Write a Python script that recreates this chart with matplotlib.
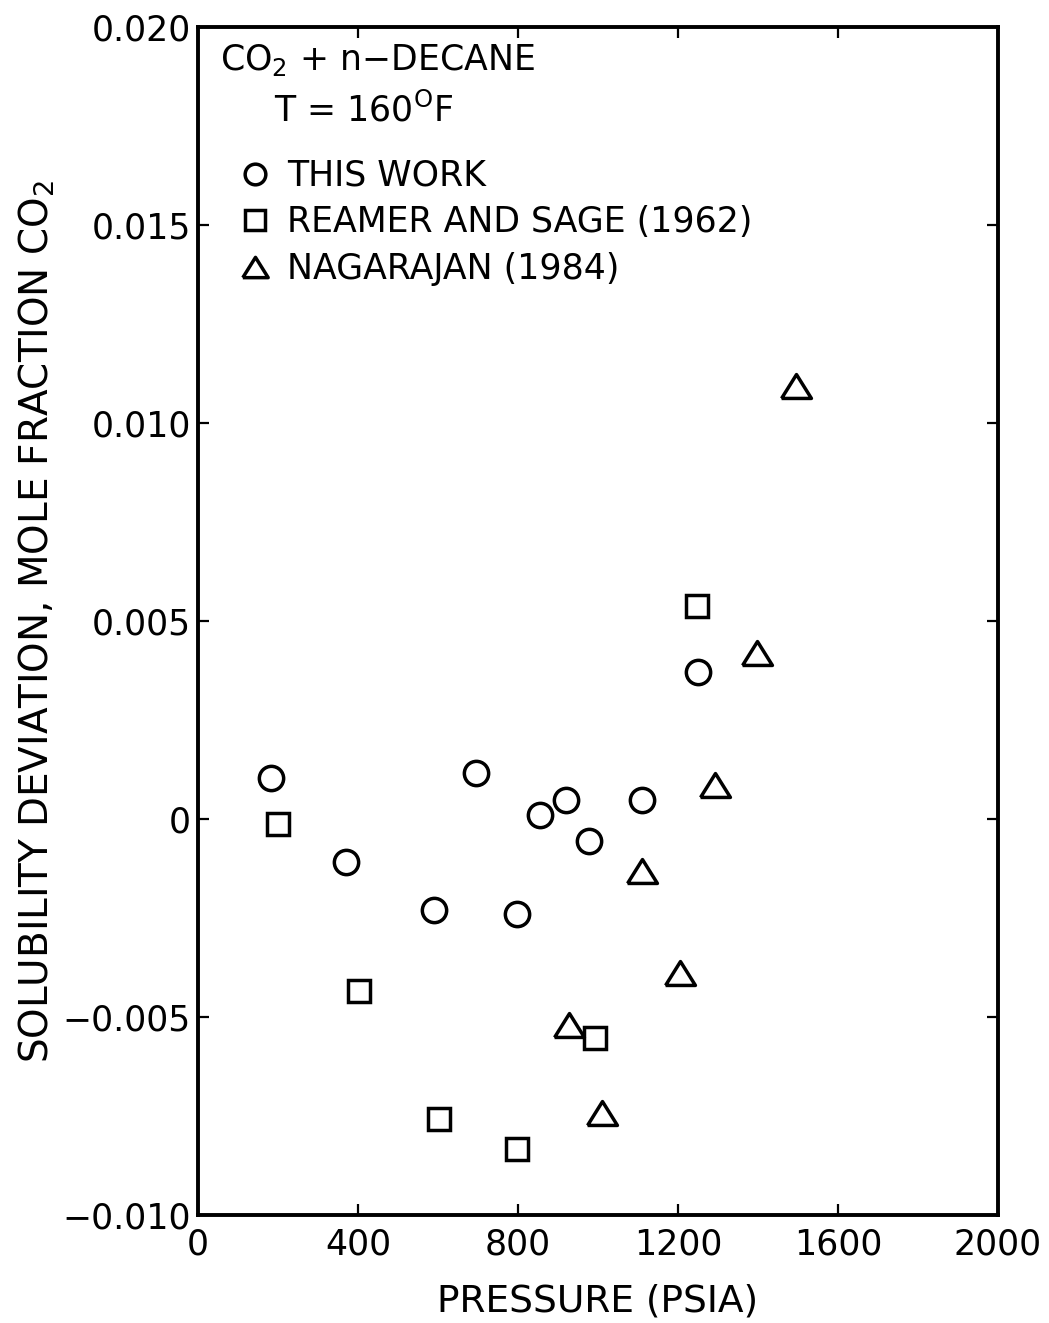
import matplotlib
matplotlib.use("Agg")
import matplotlib.pyplot as plt

plt.rcParams['font.family'] = ['DejaVu Sans']
plt.rcParams['mathtext.default'] = 'regular'

# THIS WORK
p_this = [182, 370, 590, 695, 797, 855, 920, 977, 1110, 1250]
d_this = [0.00103, -0.00108, -0.00229, 0.00116, -0.00239, 0.00010, 0.00048, -0.00055, 0.00048, 0.00370]

# REAMER AND SAGE (1962)
p_reamer = [200, 402, 602, 797, 992, 1247]
d_reamer = [-0.00013, -0.00433, -0.00758, -0.00834, -0.00554, 0.00539]

# NAGARAJAN (1984)
p_naga = [927, 1010, 1110, 1205, 1292, 1397, 1495]
d_naga = [-0.00519, -0.00743, -0.00131, -0.00388, 0.00086, 0.00418, 0.01093]

xticks = [0, 400, 800, 1200, 1600, 2000]
yticks = [-0.010, -0.005, 0, 0.005, 0.010, 0.015, 0.020]
ytick_labels = ['\u22120.010', '\u22120.005', '0', '0.005', '0.010', '0.015', '0.020']

# wide, flat triangle like the original symbols
tri = [(-1, -0.8), (1, -0.8), (0, 0.8), (-1, -0.8)]

fig = plt.figure(figsize=(10.49, 13.23), dpi=100)
ax = fig.add_axes([0.1888, 0.0816, 0.7626, 0.898])

kw = dict(ls='none', mfc='white', mec='black', mew=2.5)
l1, = ax.plot(p_this, d_this, marker='o', ms=17.5, **kw)
l2, = ax.plot(p_reamer, d_reamer, marker='s', ms=16.5, **kw)
l3, = ax.plot(p_naga, d_naga, marker=tri, ms=21.5, **kw)

ax.set_xlim(0, 2000)
ax.set_ylim(-0.010, 0.020)
ax.set_xticks(xticks)
ax.set_xticklabels([str(v) for v in xticks])
ax.set_yticks(yticks)
ax.set_yticklabels(ytick_labels)
ax.tick_params(direction='in', length=8, width=1.6, top=True, right=True,
               labelsize=25)
ax.tick_params(axis='x', pad=9)
ax.tick_params(axis='y', pad=5)
for s in ax.spines.values():
    s.set_linewidth(2.8)

ax.set_xlabel('PRESSURE (PSIA)', fontsize=27, labelpad=16)
ax.set_ylabel('SOLUBILITY DEVIATION, MOLE FRACTION CO$_2$', fontsize=28, labelpad=4)

ax.text(0.028, 0.987, 'CO$_2$ + n\u2212DECANE', transform=ax.transAxes,
        fontsize=25, va='top', ha='left')
ax.text(0.095, 0.945, 'T = 160$^{O}$F', transform=ax.transAxes,
        fontsize=25, va='top', ha='left')

ax.legend([l1, l2, l3], ['THIS WORK', 'REAMER AND SAGE (1962)', 'NAGARAJAN (1984)'],
          loc='upper left', bbox_to_anchor=(0.053, 0.889), frameon=False,
          fontsize=25, markerscale=0.85, handlelength=0.85, handletextpad=0.5,
          labelspacing=0.36, borderpad=0, borderaxespad=0)

fig.savefig('out.png', dpi=100)
